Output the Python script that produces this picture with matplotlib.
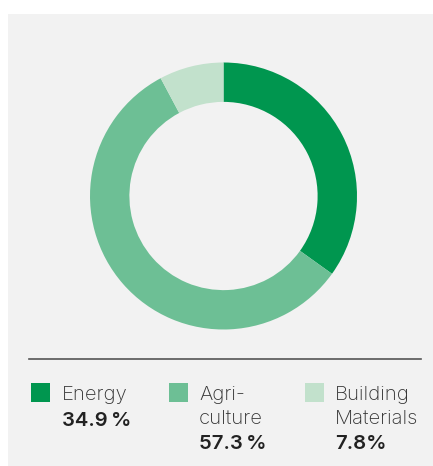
import matplotlib
matplotlib.use("Agg")
import matplotlib.pyplot as plt
from matplotlib.patches import Rectangle

categories = ["Energy", "Agriculture", "Building Materials"]
label_lines = ["Energy", "Agri-\nculture", "Building\nMaterials"]
shares = [34.9, 57.3, 7.8]
pct_labels = ["34.9\u2009%", "57.3\u2009%", "7.8%"]
colors = ["#00964f", "#6dbf95", "#c2e1cc"]

W, H = 433, 466
DPI = 100
plt.rcParams['font.family'] = ['Inter', 'DejaVu Sans']

fig = plt.figure(figsize=(W / DPI, H / DPI), dpi=DPI)
fig.patch.set_facecolor("white")

def fx(x):
    return x / W

def fy(y):
    return 1 - y / H

# background panel
fig.patches.append(Rectangle((fx(8), fy(466)), fx(433 - 8), (466 - 14) / H,
                             transform=fig.transFigure, facecolor="#f2f2f2",
                             edgecolor="none", zorder=-10))

# donut
cx, cy, r = 223.5, 196, 133.5
ax = fig.add_axes([fx(cx - r), fy(cy + r), fx(2 * r), (2 * r) / H])
ax.set_zorder(5)
ax.set_facecolor("none")
ax.pie(shares, colors=colors, startangle=90, counterclock=False, radius=1,
       wedgeprops=dict(width=0.295, edgecolor="none", linewidth=0))
ax.set_xlim(-1, 1)
ax.set_ylim(-1, 1)
ax.set_aspect("equal")
ax.axis("off")

# separator line
fig.add_artist(plt.Line2D([fx(29), fx(421)], [fy(359), fy(359)],
                          transform=fig.transFigure, color="#555555", linewidth=1.2))

# legend
sq_x = [31, 169, 305]
txt_x = [62, 199, 335]
fs = 14.6
for i in range(len(categories)):
    fig.patches.append(Rectangle((fx(sq_x[i]), fy(402)), fx(19), 19 / H,
                                 transform=fig.transFigure, facecolor=colors[i],
                                 edgecolor="none", zorder=2))
    lines = label_lines[i].split("\n")
    for j, ln in enumerate(lines):
        fig.text(fx(txt_x[i]), fy(400 + 23.5 * j), ln, fontsize=fs, color="#333333",
                 fontweight="light", va="baseline", ha="left")
    fig.text(fx(txt_x[i]), fy(400 + 23.5 * len(lines) + 2), pct_labels[i], fontsize=fs,
             color="#222222", fontweight="semibold", va="baseline", ha="left")

fig.savefig("out.png", dpi=DPI)
